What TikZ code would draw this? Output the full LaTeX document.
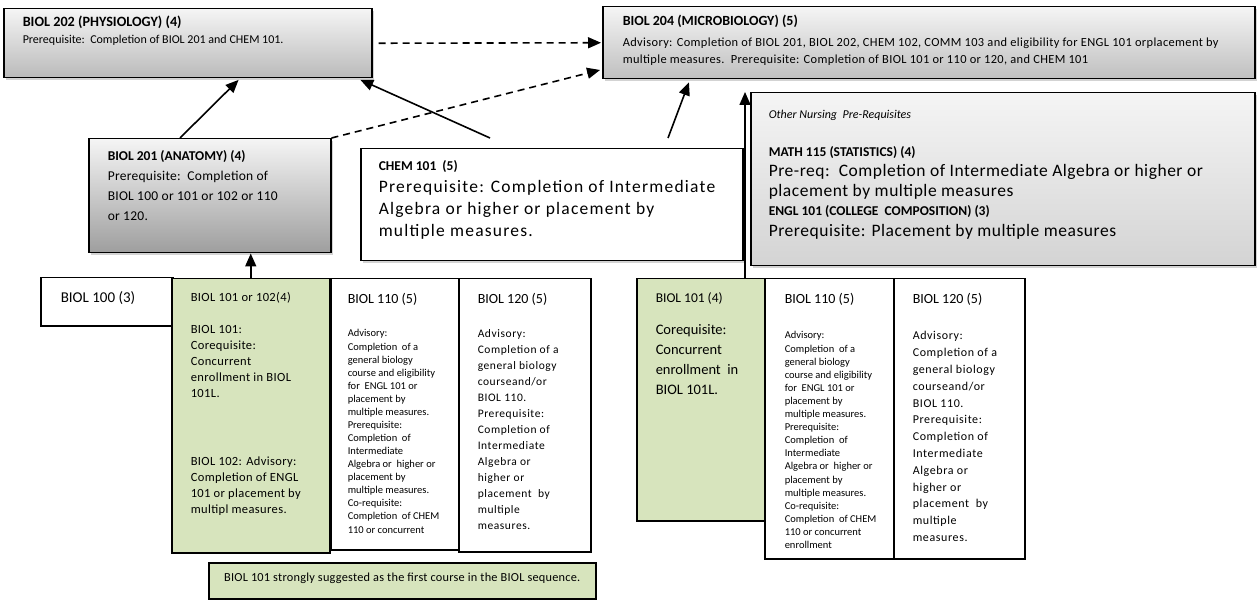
\documentclass[tikz,border=0pt]{standalone}
\usepackage{fontspec}
\setmainfont{Carlito}
\usetikzlibrary{arrows.meta,shadows}

\definecolor{biolgreen}{RGB}{215,228,189}

% top aligned text block: width, height, left pad, top pad, text
\newcommand{\crstext}[5]{\parbox[t][#2][t]{#1}{\raggedright\leftskip=#3\relax\vspace*{#4}#5}}
\newcommand{\crsfont}[2]{\fontsize{#1}{#2}\selectfont}

\tikzset{
  crs/.style={draw, line width=1.5pt, anchor=north west, inner sep=0pt, fill=white},
  shd/.style={drop shadow={shadow xshift=2.5pt, shadow yshift=-2.5pt, opacity=0.35}},
  shadebox/.style={crs, shd, top color=black!4, bottom color=black!#1},
  grn/.style={crs, fill=biolgreen},
  req/.style={-{Triangle[length=13pt,width=11pt]}, line width=1.6pt},
  adv/.style={req, dash pattern=on 7pt off 5pt},
}

\begin{document}
\begin{tikzpicture}[x=1pt,y=-1pt]
\useasboundingbox (0,0) rectangle (1257,601);

% upper courses
\node[shadebox=27] (b202) at (3,8) {\crstext{368pt}{69pt}{19pt}{7pt}{%
  {\crsfont{14.2}{17}\bfseries BIOL 202 (PHYSIOLOGY) (4)\par}
  {\crsfont{12}{17}Prerequisite:\ \ Completion of BIOL 201 and CHEM 101.\par}}};

\node[shadebox=25] (b204) at (602,6) {\crstext{652pt}{72pt}{20pt}{8pt}{%
  {\crsfont{14}{17}\bfseries BIOL 204 (MICROBIOLOGY) (5)\par}
  {\crsfont{12.4}{21}\addfontfeature{LetterSpace=3}Advisory: Completion of BIOL 201, BIOL 202, CHEM 102, COMM 103 and eligibility for ENGL 101 orplacement by\par}
  {\crsfont{12.4}{17}\addfontfeature{LetterSpace=3}multiple measures.\ \ Prerequisite: Completion of BIOL 101 or 110 or 120, and CHEM 101\par}}};

\node[shadebox=38] (b201) at (88,138) {\crstext{242pt}{114pt}{19pt}{12pt}{%
  {\crsfont{13.5}{17}\bfseries BIOL 201 (ANATOMY) (4)\par}
  {\crsfont{13.5}{20}\addfontfeature{LetterSpace=2}Prerequisite:\ \ Completion of\\ BIOL 100 or 101 or 102 or 110\\ or 120.\par}}};

\node[crs, shd] (chem) at (360,148) {\crstext{382pt}{112pt}{18pt}{12pt}{%
  {\crsfont{13.5}{17}\bfseries CHEM 101\ \ (5)\par}
  {\crsfont{17.5}{22}\addfontfeature{LetterSpace=7}Prerequisite: Completion of Intermediate\\ Algebra or higher or placement by\\ multiple measures.\par}}};

\node[shadebox=17] (other) at (750,92) {\crstext{504pt}{173pt}{18pt}{17pt}{%
  {\crsfont{12}{14}\itshape Other Nursing\ \ Pre-Requisites\par}
  {\crsfont{13.5}{38}\bfseries MATH 115 (STATISTICS) (4)\par}
  {\crsfont{17.5}{20}\addfontfeature{LetterSpace=3}Pre-req:\ \ Completion of Intermediate Algebra or higher or\\ placement by multiple measures\par}
  {\crsfont{13.5}{19}\bfseries ENGL 101 (COLLEGE\ \ COMPOSITION) (3)\par}
  {\crsfont{17.5}{21}\addfontfeature{LetterSpace=3}Prerequisite: Placement by multiple measures\par}}};

% lower row, left group
\node[crs] (b100) at (40,277) {\crstext{132pt}{48pt}{20pt}{14pt}{%
  {\crsfont{15}{18}BIOL 100 (3)\par}}};

\node[grn] (g101l) at (171,278) {\crstext{158pt}{274pt}{19pt}{14pt}{%
  {\crsfont{12.5}{16}\addfontfeature{LetterSpace=3}BIOL 101 or 102(4)\par}
  {\crsfont{12.5}{32}\addfontfeature{LetterSpace=3}BIOL 101:\par}
  {\crsfont{12.5}{16}\addfontfeature{LetterSpace=3}Corequisite:\\ Concurrent\\ enrollment in BIOL\\ 101L.\par}
  {\crsfont{12.5}{68}\addfontfeature{LetterSpace=3}BIOL 102: Advisory:\par}
  {\crsfont{12.5}{16}\addfontfeature{LetterSpace=3}Completion of ENGL\\ 101 or placement by\\ multipl measures.\par}}};

\node[crs] (b110l) at (330,278) {\crstext{128pt}{271pt}{17pt}{15pt}{%
  {\crsfont{14}{17}BIOL 110 (5)\par}
  {\crsfont{10.5}{33}Advisory:\par}
  {\crsfont{10.5}{13.07}Completion\ \ of a\\ general biology\\ course and eligibility\\ for\ \ ENGL 101 or\\ placement by\\ multiple measures.\\ Prerequisite:\\ Completion\ \ of\\ Intermediate\\ Algebra or\ \ higher or\\ placement by\\ multiple measures.\\ Co-requisite:\\ Completion\ \ of CHEM\\ 110 or concurrent\par}}};

\node[crs] (b120l) at (458,278) {\crstext{132pt}{273pt}{19pt}{15pt}{%
  {\crsfont{14}{17}BIOL 120 (5)\par}
  {\crsfont{11.5}{34}\addfontfeature{LetterSpace=5}Advisory:\par}
  {\crsfont{11.5}{16}\addfontfeature{LetterSpace=5}Completion of a\\ general biology\\ courseand/or\\ BIOL 110.\\ Prerequisite:\\ Completion of\\ Intermediate\\ Algebra or\\ higher or\\ placement\ \ by\\ multiple\\ measures.\par}}};

% lower row, right group
\node[grn] (g101r) at (636,278) {\crstext{128pt}{242pt}{19pt}{14pt}{%
  {\crsfont{13.5}{17}BIOL 101 (4)\par}
  {\crsfont{14.5}{32}Corequisite:\par}
  {\crsfont{14.5}{20}Concurrent\\ enrollment\ \ in\\ BIOL 101L.\par}}};

\node[crs] (b110r) at (764,278) {\crstext{129pt}{280pt}{20pt}{15pt}{%
  {\crsfont{14}{17}BIOL 110 (5)\par}
  {\crsfont{10.5}{35}Advisory:\par}
  {\crsfont{10.5}{13.1}Completion\ \ of a\\ general biology\\ course and eligibility\\ for\ \ ENGL 101 or\\ placement by\\ multiple measures.\\ Prerequisite:\\ Completion\ \ of\\ Intermediate\\ Algebra or\ \ higher or\\ placement by\\ multiple measures.\\ Co-requisite:\\ Completion\ \ of CHEM\\ 110 or concurrent\\ enrollment\par}}};

\node[crs] (b120r) at (893,278) {\crstext{131pt}{280pt}{19pt}{15pt}{%
  {\crsfont{14}{17}BIOL 120 (5)\par}
  {\crsfont{12}{36}\addfontfeature{LetterSpace=5}Advisory:\par}
  {\crsfont{12}{16.8}\addfontfeature{LetterSpace=5}Completion of a\\ general biology\\ courseand/or\\ BIOL 110.\\ Prerequisite:\\ Completion of\\ Intermediate\\ Algebra or\\ higher or\\ placement\ \ by\\ multiple\\ measures.\par}}};

\node[grn] (note) at (208,562) {\parbox[t][36pt][t]{387pt}{\centering\vspace*{10pt}%
  \crsfont{12.3}{14}\addfontfeature{LetterSpace=2}BIOL 101 strongly suggested as the first course in the BIOL sequence.\par}};

% connectors
\draw[adv, shorten <=6pt, shorten >=1pt] (b202.east) -- (b204.west);
\draw[adv, shorten >=2pt] (b201.north east) -- ([yshift=10pt]b204.south west);
\draw[req, shorten >=2pt] ([xshift=92pt]b201.north west) -- ([xshift=237pt]b202.south west);
\draw[req, shorten >=3pt] ([xshift=130pt,yshift=10pt]chem.north west) -- ([xshift=-15pt]b202.south east);
\draw[req, shorten >=3pt] ([xshift=308pt,yshift=10pt]chem.north west) -- ([xshift=88pt]b204.south west);
\draw[req] (g101l.north) -- (g101l.north |- b201.south);
\draw[req] ([xshift=-5pt]other.north west |- g101r.north) -- ([xshift=-5pt]other.north west);

\end{tikzpicture}
\end{document}
